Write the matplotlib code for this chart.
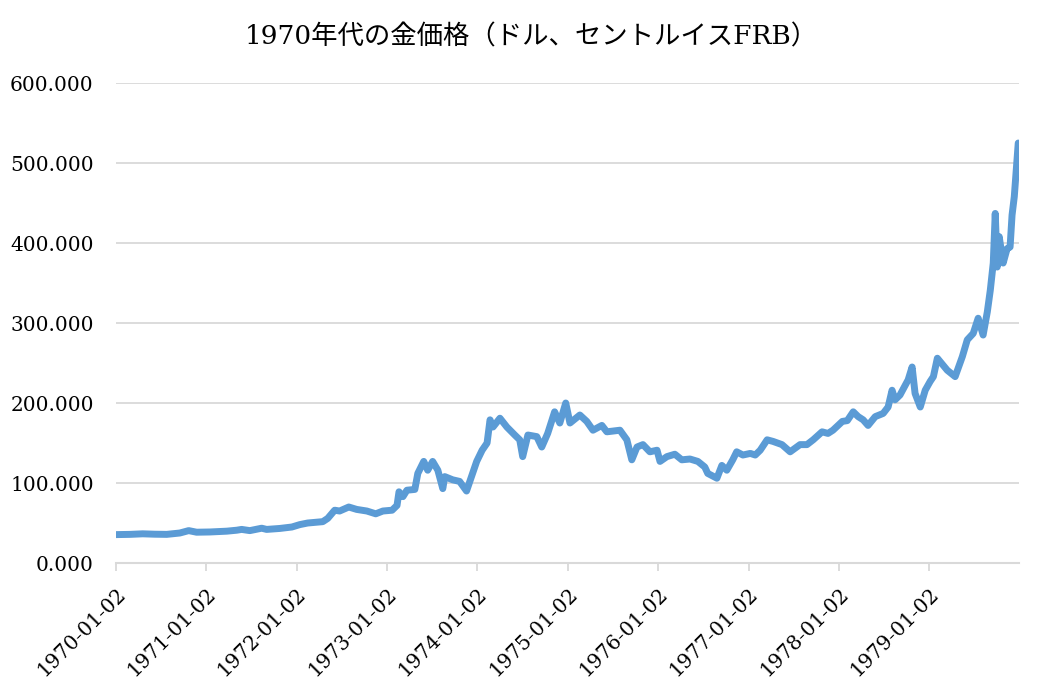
import pandas as pd
import matplotlib.pyplot as plt
import matplotlib.dates as mdates
from matplotlib.ticker import FuncFormatter

# gold price readings (USD)
dates = [
    "1970-01-02", "1970-02-28", "1970-04-20", "1970-06-08", "1970-07-26", "1970-09-17",
    "1970-10-23", "1970-11-24", "1971-01-17", "1971-03-26", "1971-05-05", "1971-05-25",
    "1971-06-27", "1971-08-14", "1971-09-03", "1971-10-26", "1971-12-14", "1972-01-15",
    "1972-02-16", "1972-04-17", "1972-05-07", "1972-06-04", "1972-06-24", "1972-07-31",
    "1972-09-01", "1972-10-12", "1972-11-17", "1972-12-16", "1973-01-22", "1973-02-11",
    "1973-02-19", "1973-03-07", "1973-03-23", "1973-04-24", "1973-05-06", "1973-05-30",
    "1973-06-15", "1973-07-05", "1973-07-26", "1973-08-15", "1973-08-23", "1973-09-24",
    "1973-10-22", "1973-11-19", "1973-12-09", "1973-12-30", "1974-01-21", "1974-02-10",
    "1974-02-22", "1974-03-06", "1974-04-03", "1974-05-01", "1974-06-02", "1974-06-22",
    "1974-07-04", "1974-07-25", "1974-08-30", "1974-09-19", "1974-10-13", "1974-11-10",
    "1974-12-01", "1974-12-25", "1975-01-11", "1975-02-20", "1975-03-20", "1975-04-14",
    "1975-05-20", "1975-06-09", "1975-08-01", "1975-08-29", "1975-09-18", "1975-10-09",
    "1975-11-02", "1975-11-30", "1975-12-29", "1976-01-10", "1976-02-07", "1976-03-10",
    "1976-04-07", "1976-05-10", "1976-06-11", "1976-07-09", "1976-07-21", "1976-08-27",
    "1976-09-16", "1976-10-06", "1976-10-30", "1976-11-15", "1976-12-10", "1977-01-09",
    "1977-01-29", "1977-02-18", "1977-03-18", "1977-04-11", "1977-05-17", "1977-06-19",
    "1977-07-29", "1977-08-26", "1977-09-20", "1977-10-26", "1977-11-19", "1977-12-09",
    "1978-01-16", "1978-02-05", "1978-03-01", "1978-03-21", "1978-04-10", "1978-04-30",
    "1978-05-29", "1978-06-30", "1978-07-20", "1978-08-05", "1978-08-17", "1978-09-06",
    "1978-10-09", "1978-10-25", "1978-11-06", "1978-11-27", "1978-12-17", "1979-01-06",
    "1979-01-19", "1979-02-04", "1979-03-16", "1979-04-17", "1979-05-16", "1979-06-05",
    "1979-06-29", "1979-07-19", "1979-08-08", "1979-08-25", "1979-09-06", "1979-09-18",
    "1979-09-26", "1979-10-04", "1979-10-12", "1979-10-28", "1979-11-13", "1979-11-25",
    "1979-12-03", "1979-12-12", "1979-12-20", "1979-12-28", "1979-12-31",
]
prices = [
    35.5, 35.8, 36.5, 36.0, 35.8, 37.5,
    40.5, 38.5, 38.8, 39.8, 41.0, 42.0,
    40.5, 43.5, 42.0, 43.2, 45.0, 48.0,
    50.0, 51.7, 55.8, 66.0, 65.0, 70.0,
    67.0, 65.0, 61.5, 65.0, 66.0, 72.0,
    89.0, 83.0, 91.0, 92.0, 112.0, 127.0,
    116.0, 127.0, 116.0, 93.0, 108.0, 104.0,
    102.0, 90.0, 108.0, 127.0, 141.0, 150.0,
    179.0, 170.0, 181.0, 170.0, 160.0, 154.0,
    133.0, 160.0, 158.0, 145.0, 162.0, 189.0,
    175.0, 200.0, 175.0, 185.0, 177.0, 166.0,
    172.0, 164.0, 166.0, 154.0, 129.0, 145.0,
    148.0, 139.0, 141.0, 127.0, 133.0, 136.0,
    129.0, 130.0, 127.0, 120.0, 112.0, 106.0,
    122.0, 116.0, 129.0, 139.0, 135.0, 137.0,
    135.0, 141.0, 154.0, 152.0, 148.0, 139.0,
    148.0, 148.0, 154.0, 164.0, 162.0, 166.0,
    177.0, 178.0, 189.0, 183.0, 179.0, 172.0,
    183.0, 187.0, 195.0, 216.0, 204.0, 210.0,
    229.0, 245.0, 212.0, 195.0, 216.0, 227.0,
    233.0, 256.0, 241.0, 233.0, 258.0, 279.0,
    287.0, 306.0, 285.0, 314.0, 341.0, 375.0,
    437.0, 370.0, 408.0, 375.0, 393.0, 395.0,
    435.0, 458.0, 491.0, 525.0, 524.0,
]
tick_dates = ["%d-01-02" % y for y in range(1970, 1980)]
y_ticks = [0, 100, 200, 300, 400, 500, 600]
title = "1970年代の金価格（ドル、セントルイスFRB）"

df = pd.DataFrame({"date": pd.to_datetime(dates), "price": prices})

fig = plt.figure(figsize=(10.62, 6.92), dpi=100)
ax = fig.add_axes([0.1092, 0.1864, 0.8503, 0.6936])

ax.plot(df["date"], df["price"], color="#5B9BD5", linewidth=5,
        solid_joinstyle="round", solid_capstyle="round", zorder=3)

ax.set_ylim(0, 600)
ax.set_yticks(y_ticks)
ax.yaxis.set_major_formatter(FuncFormatter(lambda v, p: "%.3f" % v))
ax.set_xlim(pd.Timestamp("1970-01-02"), pd.Timestamp("1979-12-31"))
ax.set_xticks(pd.to_datetime(tick_dates))
ax.xaxis.set_major_formatter(mdates.DateFormatter("%Y-%m-%d"))

ax.grid(axis="y", color="#D9D9D9", linewidth=1.3, zorder=0)
for s in ["left", "right", "top"]:
    ax.spines[s].set_visible(False)
ax.spines["bottom"].set_color("#D9D9D9")
ax.spines["bottom"].set_linewidth(1.5)

ax.tick_params(axis="y", length=0, pad=16, labelsize=14.5)
ax.tick_params(axis="x", length=6, width=1.3, color="#D9D9D9", pad=9, labelsize=14.5)
for lab in ax.get_yticklabels() + ax.get_xticklabels():
    lab.set_family("DejaVu Serif")
for lab in ax.get_xticklabels():
    lab.set_rotation(45)
    lab.set_ha("right")
    lab.set_va("top")
    lab.set_rotation_mode("anchor")

fig.text(0.5, 0.947, title, ha="center", va="center", fontsize=19,
         family=["DejaVu Serif", "Noto Sans CJK JP"])

fig.savefig("out.png", dpi=100, facecolor="white")
